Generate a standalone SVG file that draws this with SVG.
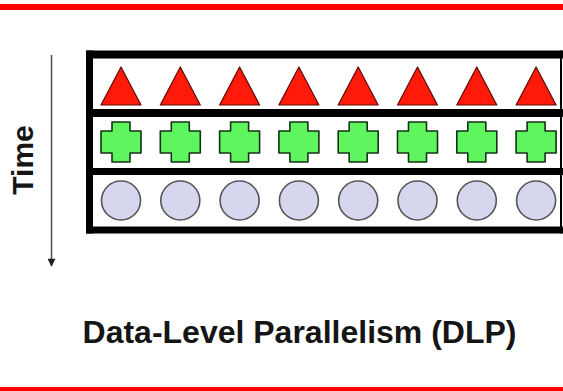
<svg xmlns="http://www.w3.org/2000/svg" width="563" height="391" viewBox="0 0 563 391">
  <style>
    .rule { stroke: #ff0000; stroke-width: 6; }
    .frame { stroke: #000; fill: none; }
    .tri { fill: #ff1a0a; stroke: #5a0a05; stroke-width: 1.2; stroke-linejoin: round; }
    .plus { fill: #5ef55e; stroke: #143214; stroke-width: 1.6; stroke-linejoin: round; }
    .dot { fill: #d6d6ee; stroke: #555; stroke-width: 1.6; }
    .label { font-family: "Liberation Sans", Arial, sans-serif; font-weight: bold; fill: #151515; }
    .axis { stroke: #555; stroke-width: 1.6; }
  </style>
  <defs>
    <marker id="arrowhead" viewBox="0 0 10 10" refX="9" refY="5" markerWidth="10" markerHeight="8" markerUnits="userSpaceOnUse" orient="auto">
      <path d="M0,0 L10,5 L0,10 Z" fill="#222"/>
    </marker>
    <polygon id="tri" class="tri" points="0,-19 20,19 -20,19"/>
    <path id="plus" class="plus" d="M-9,-20 H9 V-11 H20 V11 H9 V20 H-9 V11 H-20 V-11 H-9 Z"/>
    <circle id="dot" class="dot" r="19.5"/>
  </defs>

  <rect width="563" height="391" fill="#fff"/>

  <!-- red rules -->
  <line class="rule" x1="0" y1="7" x2="563" y2="7"/>
  <line class="rule" x1="0" y1="390" x2="563" y2="390"/>

  <!-- frame with three lanes -->
  <g id="frame">
    <line class="frame" x1="86" y1="54.5" x2="563" y2="54.5" stroke-width="8"/>
    <line class="frame" x1="86" y1="113" x2="563" y2="113" stroke-width="8"/>
    <line class="frame" x1="86" y1="171.5" x2="563" y2="171.5" stroke-width="7"/>
    <line class="frame" x1="86" y1="230" x2="563" y2="230" stroke-width="7"/>
    <line class="frame" x1="89.5" y1="50.5" x2="89.5" y2="233.5" stroke-width="7"/>
    <line class="frame" x1="561" y1="50.5" x2="561" y2="233.5" stroke-width="2"/>
  </g>

  <!-- lane 1: triangles -->
  <g id="lane-triangles">
    <use href="#tri" x="121" y="86"/>
    <use href="#tri" x="180.3" y="86"/>
    <use href="#tri" x="239.6" y="86"/>
    <use href="#tri" x="298.9" y="86"/>
    <use href="#tri" x="358.2" y="86"/>
    <use href="#tri" x="417.5" y="86"/>
    <use href="#tri" x="476.8" y="86"/>
    <use href="#tri" x="536.1" y="86"/>
  </g>

  <!-- lane 2: crosses -->
  <g id="lane-crosses">
    <use href="#plus" x="121" y="142"/>
    <use href="#plus" x="180.3" y="142"/>
    <use href="#plus" x="239.6" y="142"/>
    <use href="#plus" x="298.9" y="142"/>
    <use href="#plus" x="358.2" y="142"/>
    <use href="#plus" x="417.5" y="142"/>
    <use href="#plus" x="476.8" y="142"/>
    <use href="#plus" x="536.1" y="142"/>
  </g>

  <!-- lane 3: circles -->
  <g id="lane-circles">
    <use href="#dot" x="121" y="200.5"/>
    <use href="#dot" x="180.3" y="200.5"/>
    <use href="#dot" x="239.6" y="200.5"/>
    <use href="#dot" x="298.9" y="200.5"/>
    <use href="#dot" x="358.2" y="200.5"/>
    <use href="#dot" x="417.5" y="200.5"/>
    <use href="#dot" x="476.8" y="200.5"/>
    <use href="#dot" x="536.1" y="200.5"/>
  </g>

  <!-- time axis -->
  <g id="connectors">
    <line class="axis" x1="51.5" y1="55" x2="51.5" y2="266" marker-end="url(#arrowhead)"/>
  </g>
  <g id="time-label">
    <text class="label" font-size="30" text-anchor="middle" transform="translate(33,160) rotate(-90)">Time</text>
  </g>

  <g id="caption">
    <text class="label" x="299.5" y="343" font-size="32" text-anchor="middle">Data-Level Parallelism (DLP)</text>
  </g>
</svg>
